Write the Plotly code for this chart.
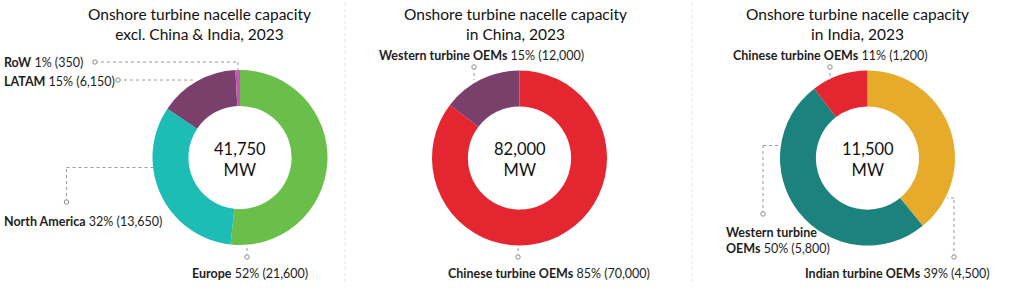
import plotly.graph_objects as go

W, H = 1024, 308

# ---------------- data ----------------
p1_labels = ["Europe", "North America", "LATAM", "RoW"]
p1_values = [21600, 13650, 6150, 350]
p1_pct = [52, 32, 15, 1]
p1_colors = ["#6abf4b", "#1dbcb5", "#7b3f6b", "#c655b8"]
p1_title = "Onshore turbine nacelle capacity<br>excl. China & India, 2023"

p2_labels = ["Chinese turbine OEMs", "Western turbine OEMs"]
p2_values = [70000, 12000]
p2_pct = [85, 15]
p2_colors = ["#e3262f", "#7b3f6b"]
p2_title = "Onshore turbine nacelle capacity<br>in China, 2023"

p3_labels = ["Indian turbine OEMs", "Western turbine OEMs", "Chinese turbine OEMs"]
p3_values = [4500, 5800, 1200]
p3_pct = [39, 50, 11]
p3_colors = ["#e6ab2b", "#1b827d", "#e3262f"]
p3_title = "Onshore turbine nacelle capacity<br>in India, 2023"

FONT = "Lato"
DARK = "#1e1e1e"


def px(x, y):
    return x / W, 1 - y / H


fig = go.Figure()

pies = [
    (p1_labels, p1_values, p1_colors, 240.0, 157.5),
    (p2_labels, p2_values, p2_colors, 519.5, 158.0),
    (p3_labels, p3_values, p3_colors, 867.5, 158.0),
]
R = 87.5
for labels, values, colors, cx, cy in pies:
    fig.add_trace(go.Pie(
        labels=labels, values=values, hole=0.59, sort=False,
        direction="clockwise", rotation=0,
        marker=dict(colors=colors, line=dict(color="white", width=0)),
        textinfo="none", showlegend=False,
        domain=dict(x=[(cx - R) / W, (cx + R) / W],
                    y=[1 - (cy + R) / H, 1 - (cy - R) / H]),
    ))

annotations = []
shapes = []

# titles
for title, tx in [(p1_title, 199), (p2_title, 515), (p3_title, 857)]:
    x, y = px(tx, 24)
    annotations.append(dict(text=title, x=x, y=y, xref="paper", yref="paper",
                            showarrow=False, xanchor="center", yanchor="middle",
                            font=dict(family=FONT, size=15.5, color="#111111")))

# center totals
for values, (_, _, _, cx, cy) in zip([p1_values, p2_values, p3_values], pies):
    x, y = px(cx, cy + 2)
    annotations.append(dict(text=f"{sum(values):,}<br>MW", x=x, y=y,
                            xref="paper", yref="paper", showarrow=False,
                            xanchor="center", yanchor="middle",
                            font=dict(family=FONT, size=16.5, color="#111111")))


def label(name, pct, val, lx, ly, br=False):
    words = name.split(" ")
    if br:
        txt = f"<b>{' '.join(words[:2])}</b><br><b>{words[2]}</b> {pct}% ({val:,})"
    else:
        txt = f"<b>{name}</b> {pct}% ({val:,})"
    x, y = px(lx, ly)
    annotations.append(dict(text=txt, x=x, y=y, xref="paper", yref="paper",
                            showarrow=False, xanchor="left", yanchor="middle",
                            align="left",
                            font=dict(family=FONT, size=12.5, color=DARK)))


def leader(points):
    for (x0, y0), (x1, y1) in zip(points[:-1], points[1:]):
        a, b = px(x0, y0)
        c, d = px(x1, y1)
        shapes.append(dict(type="line", x0=a, y0=b, x1=c, y1=d, xref="paper",
                           yref="paper", line=dict(color="#9a9a9a", width=1, dash="dot")))
    ex, ey = points[0]
    r = 2.2
    a, b = px(ex - r, ey - r)
    c, d = px(ex + r, ey + r)
    shapes.append(dict(type="circle", x0=a, y0=b, x1=c, y1=d, xref="paper",
                       yref="paper", fillcolor="white",
                       line=dict(color="#8a8a8a", width=1)))


# chart 1 labels
label(p1_labels[3], p1_pct[3], p1_values[3], 2, 62)
leader([(95, 62), (238, 62), (238, 71)])
label(p1_labels[2], p1_pct[2], p1_values[2], 2, 81)
leader([(118, 80), (195, 80)])
label(p1_labels[1], p1_pct[1], p1_values[1], 2, 221)
leader([(66.5, 202), (66.5, 167.5), (153, 167.5)])
label(p1_labels[0], p1_pct[0], p1_values[0], 190, 273)
leader([(247, 257), (247, 245)])

# chart 2 labels
label(p2_labels[1], p2_pct[1], p2_values[1], 377, 55)
leader([(474, 67), (474, 80)])
label(p2_labels[0], p2_pct[0], p2_values[0], 446, 273)
leader([(518, 257), (518, 245)])

# chart 3 labels
label(p3_labels[2], p3_pct[2], p3_values[2], 731, 55)
leader([(830, 67), (830, 80)])
label(p3_labels[1], p3_pct[1], p3_values[1], 724, 240, br=True)
leader([(763, 214), (763, 145.5), (781, 145.5)])
label(p3_labels[0], p3_pct[0], p3_values[0], 803, 273)
leader([(954, 257), (954, 198), (947, 198)])

# dividers
for dx in [345, 692]:
    a, b = px(dx, 3)
    c, d = px(dx, 283)
    shapes.append(dict(type="line", x0=a, y0=b, x1=c, y1=d, xref="paper",
                       yref="paper", line=dict(color="#e2e2e2", width=1, dash="dot")))

fig.update_layout(
    width=W, height=H, margin=dict(l=0, r=0, t=0, b=0),
    paper_bgcolor="white", plot_bgcolor="white",
    annotations=annotations, shapes=shapes,
    font=dict(family=FONT, color=DARK),
)

fig.write_html("out.html")
